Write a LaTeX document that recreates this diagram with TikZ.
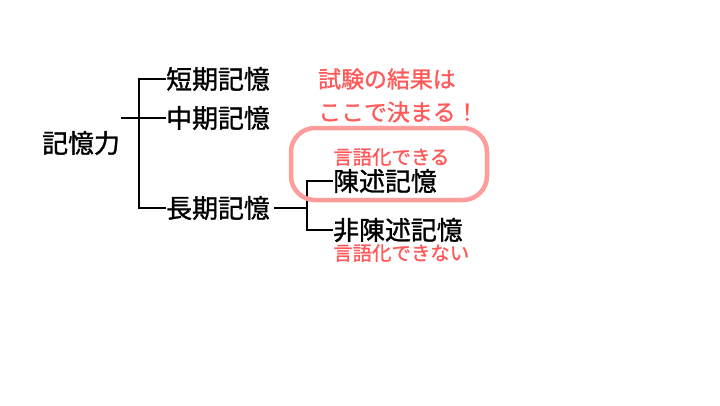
\documentclass[tikz,border=0pt]{standalone}
\usepackage{fontspec}
\newfontfamily\jp[FakeBold=1.2]{Noto Sans CJK JP}
\definecolor{redtxt}{HTML}{FF5A5A}
\definecolor{boxpink}{HTML}{FF9C9C}
\begin{document}
\begin{tikzpicture}[x=1bp,y=-1bp,
  lbl/.style={font=\jp\fontsize{26}{28}\selectfont, inner sep=0pt, anchor=west},
  note/.style={font=\jp\fontsize{23}{25}\selectfont, text=redtxt, inner sep=0pt, anchor=west},
  small/.style={font=\jp\fontsize{19.5}{21}\selectfont, text=redtxt, inner sep=0pt, anchor=west},
  conn/.style={line width=1.8bp}]
\useasboundingbox[fill=white] (0,0) rectangle (720,405);
\node[lbl] (root) at (42,143) {記憶力};
\node[lbl] (s) at (166,79) {短期記憶};
\node[lbl] (m) at (166,118) {中期記憶};
\node[lbl] (l) at (166,208) {長期記憶};
\node[lbl] (d) at (333,181) {陳述記憶};
\node[lbl] (nd) at (333,230) {非陳述記憶};
\node[small] (dn) at (333,157) {言語化できる};
\node[small] (ndn) at (333,253) {言語化できない};
\node[note] (n1) at (318,79) {試験の結果は};
\node[note] (n2) at (318,112) {ここで決まる！};
\coordinate (v1) at (139,118);
\coordinate (v2) at (307,208);
\draw[conn] ([xshift=1bp]root.east |- v1) -- (m.west);
\draw[conn] (s.west) -- (s.west -| v1) -- (l.west -| v1) -- (l.west);
\draw[conn] ([xshift=4bp]l.east) -- (v2);
\draw[conn] (d.west) -- (d.west -| v2) -- (nd.west -| v2) -- (nd.west);
\draw[boxpink, line width=4.5bp, rounded corners=24bp] (291,128) rectangle (487,200);
\end{tikzpicture}
\end{document}
